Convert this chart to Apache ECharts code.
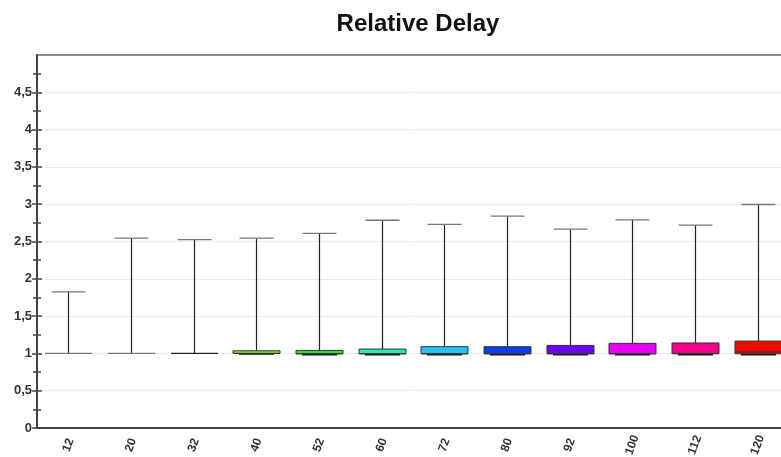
<!DOCTYPE html>
<html>
<head>
<meta charset="utf-8">
<script src="https://cdn.jsdelivr.net/npm/echarts@6/dist/echarts.min.js"></script>
<style>html,body{margin:0;padding:0;background:#fff;}#c{width:781px;height:457px;}</style>
</head>
<body>
<div id="c"></div>
<script>
var categories = ['12','20','32','40','52','60','72','80','92','100','112','120'];
var minVals    = [1.0, 1.0, 1.0, 0.995, 0.985, 0.985, 0.985, 0.985, 0.985, 0.985, 0.985, 0.985];
var q1Vals     = [1.0, 1.0, 1.0, 1.0, 0.995, 0.995, 0.995, 0.995, 0.995, 0.995, 0.995, 0.995];
var medVals    = [1.0, 1.0, 1.0, 1.0, 0.995, 0.995, 0.995, 0.995, 0.995, 0.995, 1.0, 1.02];
var q3Vals     = [1.0, 1.0, 1.0, 1.035, 1.04, 1.058, 1.09, 1.09, 1.107, 1.135, 1.14, 1.165];
var maxVals    = [1.825, 2.545, 2.525, 2.545, 2.61, 2.785, 2.73, 2.84, 2.665, 2.79, 2.72, 2.996];
var yTickValues = [0, 0.5, 1, 1.5, 2, 2.5, 3, 3.5, 4, 4.5];
var yTickLabels = ['0','0,5','1','1,5','2','2,5','3','3,5','4','4,5'];

var boxColors = ['#ffffff','#ffffff','#ffffff','#77ee33','#22e633','#22eebb','#22c4f8','#0a3cf5','#6a00f0','#e600f5','#f5008c','#ff0000'];

var data = categories.map(function (c, i) {
  return [i, minVals[i], q1Vals[i], medVals[i], q3Vals[i], maxVals[i]];
});

function renderItem(params, api) {
  var idx = api.value(0);
  var x = Math.round(api.coord([idx, 0])[0]) + 0.5;
  var bw = api.size([1, 0])[0];
  var boxW = bw * 0.75, capW = bw * 0.54, lowW = bw * 0.56;
  var yMin = api.coord([idx, api.value(1)])[1];
  var yQ1 = api.coord([idx, api.value(2)])[1];
  var yMed = api.coord([idx, api.value(3)])[1];
  var yQ3 = api.coord([idx, api.value(4)])[1];
  var yMax = api.coord([idx, api.value(5)])[1];
  var flat = Math.abs(yQ1 - yQ3) < 0.5;
  var children = [
    { type: 'line', shape: { x1: x, y1: yMax, x2: x, y2: yQ3 }, style: { stroke: '#222', lineWidth: 1.2 } },
    { type: 'line', shape: { x1: x - capW / 2, y1: yMax, x2: x + capW / 2, y2: yMax }, style: { stroke: '#777', lineWidth: 1.3 } }
  ];
  if (flat) {
    children.push({ type: 'line', shape: { x1: x - boxW / 2, y1: yQ1, x2: x + boxW / 2, y2: yQ1 }, style: { stroke: idx === 2 ? '#222' : '#777', lineWidth: 1.3 } });
  } else {
    children.push({ type: 'line', shape: { x1: x - lowW / 2, y1: yMin, x2: x + lowW / 2, y2: yMin }, style: { stroke: '#111', lineWidth: 2 } });
    children.push({ type: 'rect', shape: { x: x - boxW / 2, y: yQ3, width: boxW, height: yQ1 - yQ3 }, style: { fill: boxColors[idx], stroke: '#333', lineWidth: 1 } });
    children.push({ type: 'line', shape: { x1: x - boxW / 2, y1: yMed, x2: x + boxW / 2, y2: yMed }, style: { stroke: '#333', lineWidth: 1 } });
  }
  return { type: 'group', children: children };
}

var chart = echarts.init(document.getElementById('c'));
chart.setOption({
  animation: false,
  backgroundColor: '#fff',
  title: {
    text: 'Relative Delay',
    left: 413, top: 7, textAlign: 'center',
    textStyle: { fontFamily: 'Liberation Sans', fontWeight: 'bold', fontSize: 24, color: '#111' }
  },
  grid: {
    left: 37, top: 55, width: 752, height: 373,
    show: true, borderColor: '#666', borderWidth: 1.5,
    outerBoundsMode: 'none', containLabel: false
  },
  xAxis: [{
    type: 'category', data: categories, position: 'bottom',
    axisLine: { lineStyle: { color: '#444', width: 2 } },
    axisTick: { alignWithLabel: true, length: 7, lineStyle: { color: '#444', width: 1.5 } },
    axisLabel: { rotate: 70, margin: 17, align: 'center', verticalAlign: 'middle', fontFamily: 'Liberation Sans', fontWeight: 'bold', fontSize: 12, color: '#333' },
    splitLine: { show: false }
  }, {
    type: 'category', data: categories, position: 'bottom', gridIndex: 0,
    axisLine: { show: false },
    axisTick: { inside: true, alignWithLabel: true, length: 6, lineStyle: { color: '#444', width: 1.5 } },
    axisLabel: { show: false }, splitLine: { show: false }
  }],
  yAxis: [{
    type: 'value', min: 0, max: 5, interval: 0.5,
    axisLine: { show: true, lineStyle: { color: '#444', width: 2 } },
    axisTick: { show: true, length: 5, customValues: yTickValues, lineStyle: { color: '#444', width: 1.5 } },
    minorTick: { show: true, splitNumber: 2, length: 4, lineStyle: { color: '#444', width: 1.5 } },
    axisLabel: {
      margin: 5, fontFamily: 'Liberation Sans', fontWeight: 'bold', fontSize: 13, color: '#333',
      customValues: yTickValues,
      formatter: function (v) { return yTickLabels[Math.round(v * 2)]; }
    },
    splitLine: { show: true, lineStyle: { color: '#ececec', width: 1 } }
  }, {
    type: 'value', min: 0, max: 5, interval: 0.5, position: 'left', gridIndex: 0,
    axisLine: { show: false },
    axisTick: { show: true, inside: true, length: 5, customValues: yTickValues, lineStyle: { color: '#444', width: 1.5 } },
    minorTick: { show: true, splitNumber: 2, length: 4, lineStyle: { color: '#444', width: 1.5 } },
    axisLabel: { show: false }, splitLine: { show: false }
  }],
  series: [{
    type: 'custom', xAxisIndex: 0, yAxisIndex: 0,
    renderItem: renderItem, data: data, clip: false, z: 10
  }]
});
</script>
</body>
</html>
